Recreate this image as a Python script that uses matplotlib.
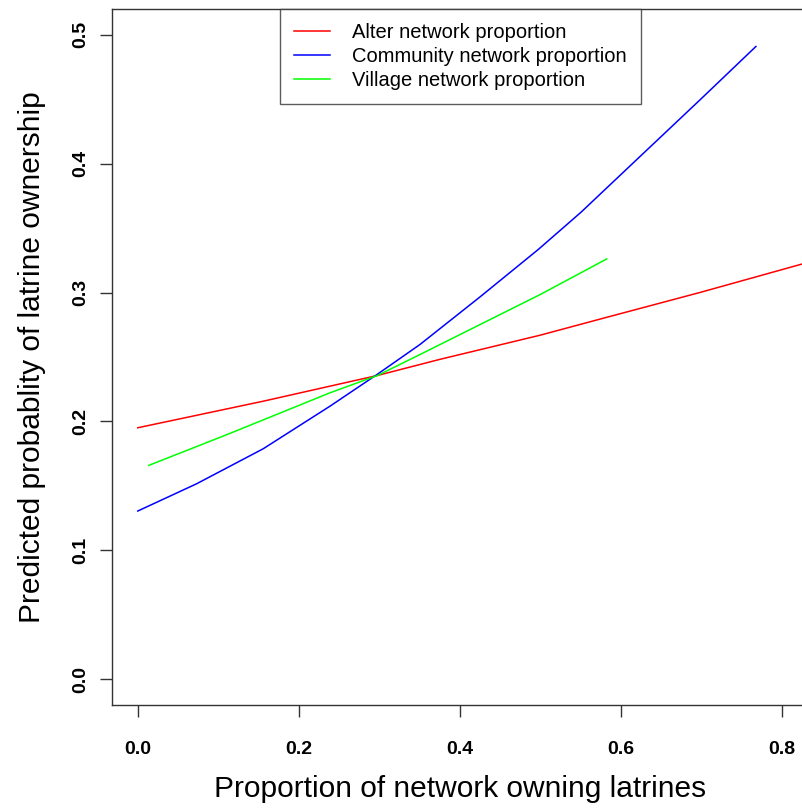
import numpy as np
import matplotlib.pyplot as plt

plt.rcParams['font.family'] = ['Liberation Sans', 'DejaVu Sans']

# Values
alter_x = [0.0, 0.1557, 0.2977, 0.3752, 0.4994, 0.5822, 0.6981, 0.825]
alter_y = [0.1951, 0.2157, 0.2357, 0.2482, 0.2669, 0.2808, 0.3001, 0.3222]

community_x = [0.0, 0.0729, 0.1557, 0.2385, 0.2965, 0.3503, 0.4248, 0.4973,
               0.55, 0.5988, 0.6981, 0.7673]
community_y = [0.1305, 0.1516, 0.1788, 0.2118, 0.2362, 0.2597, 0.2966, 0.3335,
               0.3622, 0.3910, 0.4496, 0.4909]

village_x = [0.0137, 0.1143, 0.2385, 0.2977, 0.3503, 0.4994, 0.5822]
village_y = [0.1659, 0.1907, 0.2222, 0.2357, 0.2519, 0.2984, 0.3261]

labels = ['Alter network proportion', 'Community network proportion',
          'Village network proportion']
xticks = [0.0, 0.2, 0.4, 0.6, 0.8]
yticks = [0.0, 0.1, 0.2, 0.3, 0.4, 0.5]

W, H = 802, 808
fig = plt.figure(figsize=(W / 100, H / 100), dpi=100)
ax = fig.add_axes([112 / W, (H - 705) / H, (808 - 112) / W, (705 - 9) / H])

ax.plot(alter_x, alter_y, color='#ff0000', lw=1.1, label=labels[0])
ax.plot(community_x, community_y, color='#0000ff', lw=1.1, label=labels[1])
ax.plot(village_x, village_y, color='#00ff00', lw=1.1, label=labels[2])

# R-style 4% padding
ax.set_xlim(-0.032, 0.832)
ax.set_ylim(-0.02, 0.52)
ax.set_xticks(xticks)
ax.set_yticks(yticks)
ax.set_xticklabels([f'{v:.1f}' for v in xticks], fontweight='bold', fontsize=14)
ax.set_yticklabels([f'{v:.1f}' for v in yticks], fontweight='bold', fontsize=14,
                   rotation=90, va='center')
ax.tick_params(direction='out', length=8.6, width=1.0, colors='#333333',
               labelcolor='black')
ax.tick_params(axis='x', pad=17.5)
ax.tick_params(axis='y', pad=8)
for s in ax.spines.values():
    s.set_linewidth(1.0)
    s.set_color('#333333')

ax.set_xlabel('Proportion of network owning latrines', fontsize=21.5, va='center')
ax.set_ylabel('Predicted probablity of latrine ownership', fontsize=21.5, va='center')
ax.xaxis.set_label_coords(0.5, (705 - 789) / 696)
ax.yaxis.set_label_coords((32 - 112) / 696, 0.5)

leg = ax.legend(loc='upper center', bbox_to_anchor=(0.5007, 1.0), fontsize=14.5,
                frameon=True, fancybox=False, borderaxespad=0,
                handlelength=1.8, handletextpad=1.1, borderpad=0.7,
                labelspacing=0.25)
leg.get_frame().set_edgecolor('#333333')
leg.get_frame().set_linewidth(1.0)

fig.savefig('out.png', dpi=100)
